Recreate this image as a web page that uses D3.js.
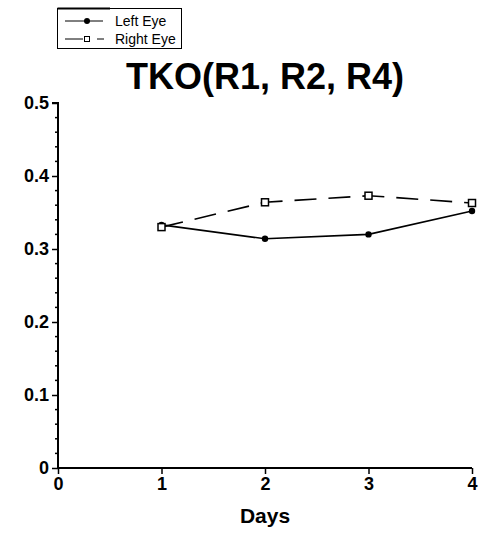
<!DOCTYPE html>
<html>
<head>
<meta charset="utf-8">
<script src="https://cdn.jsdelivr.net/npm/d3@7"></script>
<style>
  html, body { margin: 0; padding: 0; background: #fff; }
  svg { display: block; font-family: "Liberation Sans", Arial, Helvetica, sans-serif; }
</style>
</head>
<body>
<svg id="chart" width="479" height="533"></svg>
<script>
const days = [1, 2, 3, 4];
const leftEye = [0.333, 0.314, 0.320, 0.352];
const rightEye = [0.330, 0.364, 0.373, 0.363];
const xTicks = [0, 1, 2, 3, 4];
const yTicks = [0, 0.1, 0.2, 0.3, 0.4, 0.5];
const seriesNames = ["Left Eye", "Right Eye"];
const chartTitle = "TKO(R1, R2, R4)";
const xTitle = "Days";

const svg = d3.select("#chart");
const x = d3.scaleLinear().domain([0, 4]).range([58, 472]);
const y = d3.scaleLinear().domain([0, 0.5]).range([468, 103]);

// minor y ticks
const minorY = d3.range(0, 0.5001, 0.02).filter(v => Math.abs(v * 10 - Math.round(v * 10)) > 1e-6);
svg.append("g").selectAll("line").data(minorY).join("line")
  .attr("x1", x(0) - 3).attr("x2", x(0))
  .attr("y1", d => y(d)).attr("y2", d => y(d))
  .attr("stroke", "#000").attr("stroke-width", 1.5);

// y axis
const yAxis = svg.append("g").attr("transform", `translate(${x(0)},0)`)
  .call(d3.axisLeft(y).tickValues(yTicks).tickSize(6).tickPadding(3)
    .tickFormat(d => d === 0 ? "0" : d3.format(".1f")(d)));
yAxis.select(".domain").attr("stroke-width", 2).attr("d", `M-6,${y(0.5)}H0V${y(0)}`);
yAxis.selectAll(".tick line").attr("stroke-width", 1.5);
yAxis.selectAll(".tick text").attr("font-size", 18).attr("font-weight", "bold").attr("fill", "#000")
  .attr("font-family", "Liberation Sans, Arial, sans-serif");

// x axis
const xAxis = svg.append("g").attr("transform", `translate(0,${y(0)})`)
  .call(d3.axisBottom(x).tickValues(xTicks).tickSize(6).tickPadding(3).tickFormat(d3.format("d")));
xAxis.select(".domain").attr("stroke-width", 2).attr("d", `M${x(0)},0H${x(4)}`);
xAxis.selectAll(".tick line").attr("stroke-width", 1.5);
xAxis.selectAll(".tick text").attr("font-size", 18).attr("font-weight", "bold").attr("fill", "#000")
  .attr("font-family", "Liberation Sans, Arial, sans-serif");

// lines
const lineGen = d3.line().x((d, i) => x(days[i])).y(d => y(d));
svg.append("path").datum(leftEye).attr("d", lineGen)
  .attr("fill", "none").attr("stroke", "#000").attr("stroke-width", 1.6);
svg.append("path").datum(rightEye).attr("d", lineGen)
  .attr("fill", "none").attr("stroke", "#000").attr("stroke-width", 1.6)
  .attr("stroke-dasharray", "22,12");

svg.append("g").selectAll("circle").data(leftEye).join("circle")
  .attr("cx", (d, i) => x(days[i])).attr("cy", d => y(d)).attr("r", 3.2).attr("fill", "#000");
svg.append("g").selectAll("rect").data(rightEye).join("rect")
  .attr("x", (d, i) => x(days[i]) - 3.5).attr("y", d => y(d) - 3.5)
  .attr("width", 7).attr("height", 7)
  .attr("fill", "#fff").attr("stroke", "#000").attr("stroke-width", 1.5);

// title
svg.append("text").attr("x", (x(0) + x(4)) / 2).attr("y", 89)
  .attr("text-anchor", "middle").attr("font-size", 36).attr("font-weight", "bold")
  .text(chartTitle);

// x title
svg.append("text").attr("x", (x(0) + x(4)) / 2).attr("y", 523)
  .attr("text-anchor", "middle").attr("font-size", 21).attr("font-weight", "bold")
  .text(xTitle);

// legend
const lg = svg.append("g");
lg.append("rect").attr("x", 57.5).attr("y", 8.5).attr("width", 124).attr("height", 40)
  .attr("fill", "#fff").attr("stroke", "#000").attr("stroke-width", 1);
lg.append("line").attr("x1", 57.5).attr("x2", 110).attr("y1", 8.5).attr("y2", 8.5)
  .attr("stroke", "#000").attr("stroke-width", 2);
// Left eye entry
lg.append("line").attr("x1", 65).attr("x2", 103).attr("y1", 21).attr("y2", 21)
  .attr("stroke", "#000").attr("stroke-width", 1);
lg.append("circle").attr("cx", 87).attr("cy", 21).attr("r", 3).attr("fill", "#000");
lg.append("text").attr("x", 115).attr("y", 26).attr("font-size", 14).text(seriesNames[0]);
// Right eye entry
lg.append("line").attr("x1", 65).attr("x2", 104).attr("y1", 39).attr("y2", 39)
  .attr("stroke", "#000").attr("stroke-width", 1).attr("stroke-dasharray", "18,14,7");
lg.append("rect").attr("x", 84.5).attr("y", 36.5).attr("width", 5).attr("height", 5)
  .attr("fill", "#fff").attr("stroke", "#000").attr("stroke-width", 1);
lg.append("text").attr("x", 115).attr("y", 44).attr("font-size", 14).text(seriesNames[1]);
</script>
</body>
</html>
